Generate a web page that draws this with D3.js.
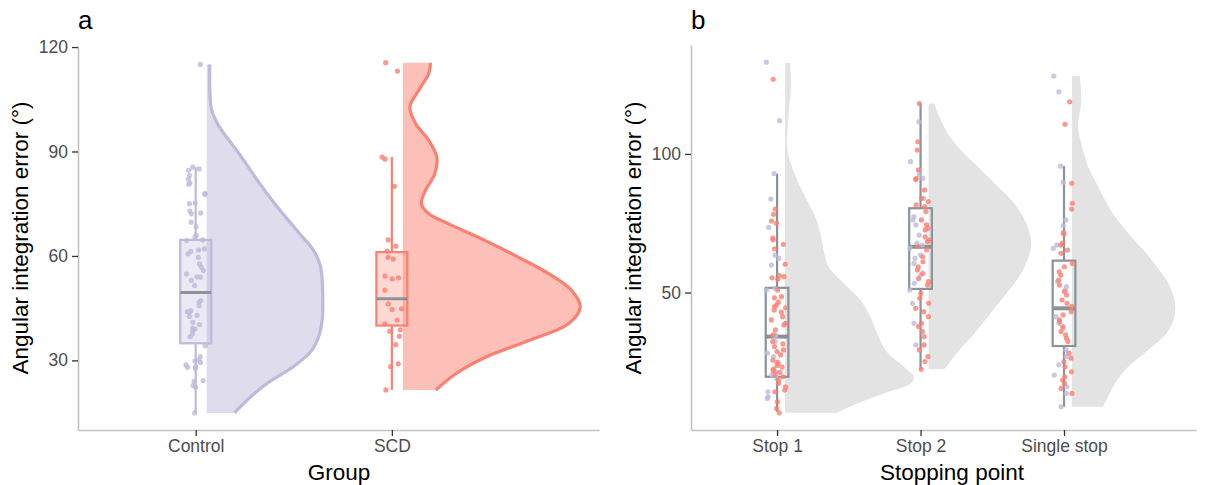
<!DOCTYPE html>
<html>
<head>
<style>
  body { margin: 0; background: #fff; }
  text { font-family: "Liberation Sans", Arial, sans-serif; }
</style>
<script src="https://d3js.org/d3.v7.min.js"></script>
</head>
<body>
<div id="chart"></div>
<script>
// ---- data ----
var groups = ["Control", "SCD"];
var stops = ["Stop 1", "Stop 2", "Single stop"];
var yTicksA = [30, 60, 90, 120];
var yTicksB = [50, 100];

// panel a: angular integration error per participant
var controlErr = [115.0, 85.5, 84.6, 85.0, 83.1, 80.9, 80.6, 82.0, 78.0, 77.6, 75.2, 75.0, 72.1, 72.9, 72.3,
  69.7, 68.4, 65.9, 65.4, 64.6, 64.4, 62.0, 61.3, 61.7, 59.6, 60.6, 57.7, 56.8, 55.8, 54.8, 53.9, 54.0,
  53.0, 51.5, 47.2, 46.7, 45.7, 44.3, 44.0, 43.8, 42.9, 42.6, 40.9, 40.3, 39.3, 39.0, 38.5, 37.6, 36.8,
  34.2, 31.1, 30.1, 29.4, 29.8, 28.7, 28.2, 28.0, 27.7, 24.2, 24.0, 22.8, 22.3, 14.9];
var scdErr = [115.5, 113.1, 88.4, 87.8, 80.0, 64.6, 62.8, 61.4, 59.1, 59.6, 54.2, 53.4, 53.7, 50.2, 46.2,
  44.8, 44.6, 41.6, 40.5, 38.4, 36.9, 38.8, 34.5, 28.2, 29.0, 21.5];

// box stats: [lower whisker, q1, median, q3, upper whisker]
var boxA = [[14.9, 34.9, 49.5, 64.6, 85.5], [21.5, 40.0, 47.7, 61.1, 88.4]];

// half-violin profiles: [error, scaled density]
var controlDens = [[115.0, 0.016], [108.0, 0.016], [102.0, 0.025], [97.5, 0.06], [93.5, 0.11], [89.0, 0.17],
  [84.5, 0.225], [80.0, 0.28], [75.5, 0.34], [71.0, 0.405], [66.3, 0.475], [61.6, 0.545], [57.0, 0.58],
  [52.1, 0.59], [47.0, 0.592], [42.3, 0.59], [37.5, 0.575], [32.8, 0.535], [28.0, 0.437], [23.3, 0.305],
  [18.4, 0.203], [14.9, 0.142]];
var scdDens = [[115.5, 0.141], [112.4, 0.132], [107.6, 0.081], [102.8, 0.036], [98.0, 0.065], [93.2, 0.132],
  [88.4, 0.173], [83.6, 0.163], [78.8, 0.115], [75.0, 0.095], [72.1, 0.132], [69.2, 0.234], [64.4, 0.421],
  [59.6, 0.59], [54.9, 0.743], [50.1, 0.86], [45.3, 0.904], [40.5, 0.844], [35.7, 0.641], [30.9, 0.421],
  [26.1, 0.268], [21.5, 0.168]];

// panel b: error by stopping point, split by group
var stop1Control = [133.1, 112.0, 92.9, 83.7, 73.5, 63.5, 62.3, 59.9, 51.5, 50.9, 34.7, 34.1, 32.3, 28.1,
  26.9, 21.4, 20.2, 19.0, 14.2, 12.4, 11.8];
var stop1Scd = [126.9, 80.1, 78.2, 75.8, 75.0, 69.6, 69.0, 67.4, 65.8, 60.2, 56.1, 55.7, 55.3, 54.8, 50.9,
  48.5, 48.1, 46.5, 45.5, 44.9, 44.5, 43.7, 42.9, 41.3, 40.1, 38.9, 38.3, 36.5, 34.7, 32.3, 31.5, 30.5,
  29.3, 28.7, 27.5, 25.6, 24.9, 24.3, 23.7, 23.1, 22.5, 21.9, 21.2, 20.6, 19.6, 18.4, 17.2, 16.0, 14.8,
  14.2, 10.6, 8.2, 6.6];
var stop2Control = [111.6, 97.2, 94.2, 92.4, 91.2, 84.0, 77.4, 76.2, 74.4, 70.7, 67.8, 67.1, 66.0, 63.5,
  62.3, 60.5, 56.3, 53.3, 50.9, 46.1, 38.9, 31.1];
var stop2Scd = [118.2, 104.4, 101.4, 94.2, 91.1, 90.8, 87.0, 84.0, 82.8, 81.6, 81.0, 79.2, 76.2, 74.4, 73.2,
  72.6, 70.1, 68.9, 68.3, 66.6, 65.4, 62.9, 61.1, 59.3, 58.1, 56.9, 55.1, 53.9, 52.7, 49.7, 47.9, 46.1,
  44.3, 43.1, 41.3, 38.9, 37.7, 35.9, 34.1, 31.1, 29.3, 26.9, 25.1, 22.3];
var singleControl = [128.1, 122.4, 95.6, 89.8, 76.2, 74.1, 67.1, 65.9, 53.9, 52.1, 50.9, 41.3, 38.9, 37.1,
  29.3, 26.9, 23.9, 20.2, 16.0, 13.6, 8.8];
var singleScd = [118.8, 110.7, 89.4, 82.2, 80.1, 71.6, 71.1, 67.8, 67.1, 65.3, 64.1, 60.5, 59.3, 57.5, 56.3,
  54.5, 52.7, 50.3, 49.1, 47.3, 46.1, 45.0, 43.1, 41.9, 40.1, 39.5, 37.7, 35.9, 34.7, 33.5, 32.3, 28.1,
  26.3, 25.0, 23.2, 21.4, 19.6, 18.4, 17.2, 15.4, 13.6];

var boxB = [[7.0, 19.6, 34.1, 51.7, 92.9], [22.3, 51.3, 66.5, 80.4, 118.2], [8.8, 30.7, 44.3, 61.5, 95.6]];

var stop1Dens = [[132.9, 0.035], [125.5, 0.042], [113.4, 0.023], [101.4, 0.016], [95.4, 0.047], [89.4, 0.093],
  [83.4, 0.152], [77.4, 0.21], [71.4, 0.245], [65.3, 0.268], [59.3, 0.303], [53.3, 0.408], [47.3, 0.524],
  [41.3, 0.594], [35.3, 0.641], [29.3, 0.699], [23.2, 0.827], [19.6, 0.897], [17.2, 0.874], [13.6, 0.685],
  [10.0, 0.503], [6.6, 0.36]];
var stop2Dens = [[118.2, 0.04], [113.4, 0.075], [107.4, 0.133], [101.4, 0.224], [95.4, 0.343], [89.4, 0.459],
  [83.4, 0.576], [77.4, 0.657], [71.4, 0.704], [66.6, 0.715], [59.3, 0.669], [53.3, 0.599], [47.3, 0.506],
  [41.3, 0.413], [35.3, 0.32], [29.3, 0.215], [22.3, 0.11]];
var singleDens = [[128.1, 0.054], [119.4, 0.065], [109.8, 0.042], [101.4, 0.077], [95.4, 0.112], [89.4, 0.17],
  [83.4, 0.229], [77.4, 0.299], [71.4, 0.392], [65.3, 0.497], [59.3, 0.59], [53.3, 0.671], [46.1, 0.718],
  [41.3, 0.713], [35.3, 0.659], [29.3, 0.531], [23.2, 0.392], [17.2, 0.299], [8.8, 0.217]];

// ---- drawing ----
var lav = "#BEBADA", sal = "#FB8072", grey = "#8b9399";
var width = 1206, height = 485;

var svg = d3.select("#chart").append("svg")
    .attr("width", width).attr("height", height);

var ya = d3.scaleLinear().domain([10, 120.3]).range([430, 46]);
var xa = d3.scaleLinear().domain([0.4, 3.056]).range([78, 599]);
var yb = d3.scaleLinear().domain([0.4, 139.3]).range([430, 45]);
var xb = d3.scaleLinear().domain([0.4, 3.92]).range([691, 1196]);

var rng = d3.randomLcg(0.42);
var jitter = d3.randomUniform.source(rng)(-0.05, 0.05);
var nudge = 0.056, boxHalf = 0.079;

function violin(g, x, y, pos, dens, fill, stroke) {
    var area = d3.area().curve(d3.curveCatmullRom)
        .y(function(d) { return y(d[0]); })
        .x0(function() { return x(pos + nudge); })
        .x1(function(d) { return x(pos + nudge + d[1]); });
    g.append("path").attr("d", area(dens)).attr("fill", fill);
    if (stroke) {
        var line = d3.line().curve(d3.curveCatmullRom)
            .y(function(d) { return y(d[0]); })
            .x(function(d) { return x(pos + nudge + d[1]); });
        g.append("path").attr("d", line(dens)).attr("fill", "none")
            .attr("stroke", stroke).attr("stroke-width", 3.2);
    }
}

function boxplot(g, x, y, pos, b, col, fill, medW) {
    g.append("line").attr("x1", x(pos)).attr("x2", x(pos))
        .attr("y1", y(b[0])).attr("y2", y(b[1]))
        .attr("stroke", col).attr("stroke-width", 2.2);
    g.append("line").attr("x1", x(pos)).attr("x2", x(pos))
        .attr("y1", y(b[3])).attr("y2", y(b[4]))
        .attr("stroke", col).attr("stroke-width", 2.2);
    g.append("rect").attr("x", x(pos - boxHalf)).attr("y", y(b[3]))
        .attr("width", x(pos + boxHalf) - x(pos - boxHalf))
        .attr("height", y(b[1]) - y(b[3]))
        .attr("fill", fill).attr("stroke", col).attr("stroke-width", 2.2);
    g.append("line").attr("x1", x(pos - boxHalf)).attr("x2", x(pos + boxHalf))
        .attr("y1", y(b[2])).attr("y2", y(b[2]))
        .attr("stroke", grey).attr("stroke-width", medW);
}

function points(g, x, y, pos, vals, col, shift) {
    g.selectAll(null).data(vals).enter().append("circle")
        .attr("cx", function() { return x(pos + shift + jitter()); })
        .attr("cy", function(d) { return y(d); })
        .attr("r", 2.6)
        .attr("fill", col).attr("fill-opacity", 0.8);
}

function axes(x, y, yTicks, cats, xTitle, x0, tag, titleX) {
    var ax = svg.append("g").attr("transform", "translate(0,430)")
        .call(d3.axisBottom(x).tickValues(d3.range(1, cats.length + 1))
            .tickFormat(function(i) { return cats[i - 1]; }).tickSize(6).tickSizeOuter(0).tickPadding(4));
    var ay = svg.append("g").attr("transform", "translate(" + x0 + ",0)")
        .call(d3.axisLeft(y).tickValues(yTicks).tickSize(6).tickSizeOuter(0).tickPadding(4));
    [ax, ay].forEach(function(a) {
        a.select(".domain").attr("stroke", "#c2c2c2").attr("stroke-width", 1.6);
        a.selectAll(".tick line").attr("stroke", "#333").attr("stroke-width", 1.3);
        a.selectAll(".tick text").attr("fill", "#4d4d4d").style("font-size", "17.5px")
            .style("font-family", "'Liberation Sans', Arial, sans-serif");
    });
    svg.append("text").attr("x", titleX).attr("y", 480).attr("text-anchor", "middle")
        .style("font-size", "22.5px").text(xTitle);
    svg.append("text").attr("transform", "translate(" + (x0 - 50) + ",238) rotate(-90)")
        .attr("text-anchor", "middle").style("font-size", "22.5px")
        .text("Angular integration error (°)");
    svg.append("text").attr("x", x0).attr("y", 29).style("font-size", "26px").text(tag);
}

// panel a
var ga = svg.append("g");
violin(ga, xa, ya, 1, controlDens, "#dedced", lav);
violin(ga, xa, ya, 2, scdDens, "#fdc0b8", sal);
boxplot(ga, xa, ya, 1, boxA[0], lav, "rgba(190,186,218,0.3)", 3);
boxplot(ga, xa, ya, 2, boxA[1], sal, "rgba(251,128,114,0.3)", 3);
points(ga, xa, ya, 1, controlErr, lav, 0);
points(ga, xa, ya, 2, scdErr, sal, 0);
axes(xa, ya, yTicksA, groups, "Group", 78, "a", 339);

// panel b
var gb = svg.append("g");
var bCtrl = [stop1Control, stop2Control, singleControl];
var bScd = [stop1Scd, stop2Scd, singleScd];
var bDens = [stop1Dens, stop2Dens, singleDens];
stops.forEach(function(s, i) {
    violin(gb, xb, yb, i + 1, bDens[i], "#e3e3e3", null);
    boxplot(gb, xb, yb, i + 1, boxB[i], grey, "none", 4);
    points(gb, xb, yb, i + 1, bCtrl[i], lav, -0.025);
    points(gb, xb, yb, i + 1, bScd[i], sal, 0.01);
});
axes(xb, yb, yTicksB, stops, "Stopping point", 691, "b", 952);
</script>
</body>
</html>
